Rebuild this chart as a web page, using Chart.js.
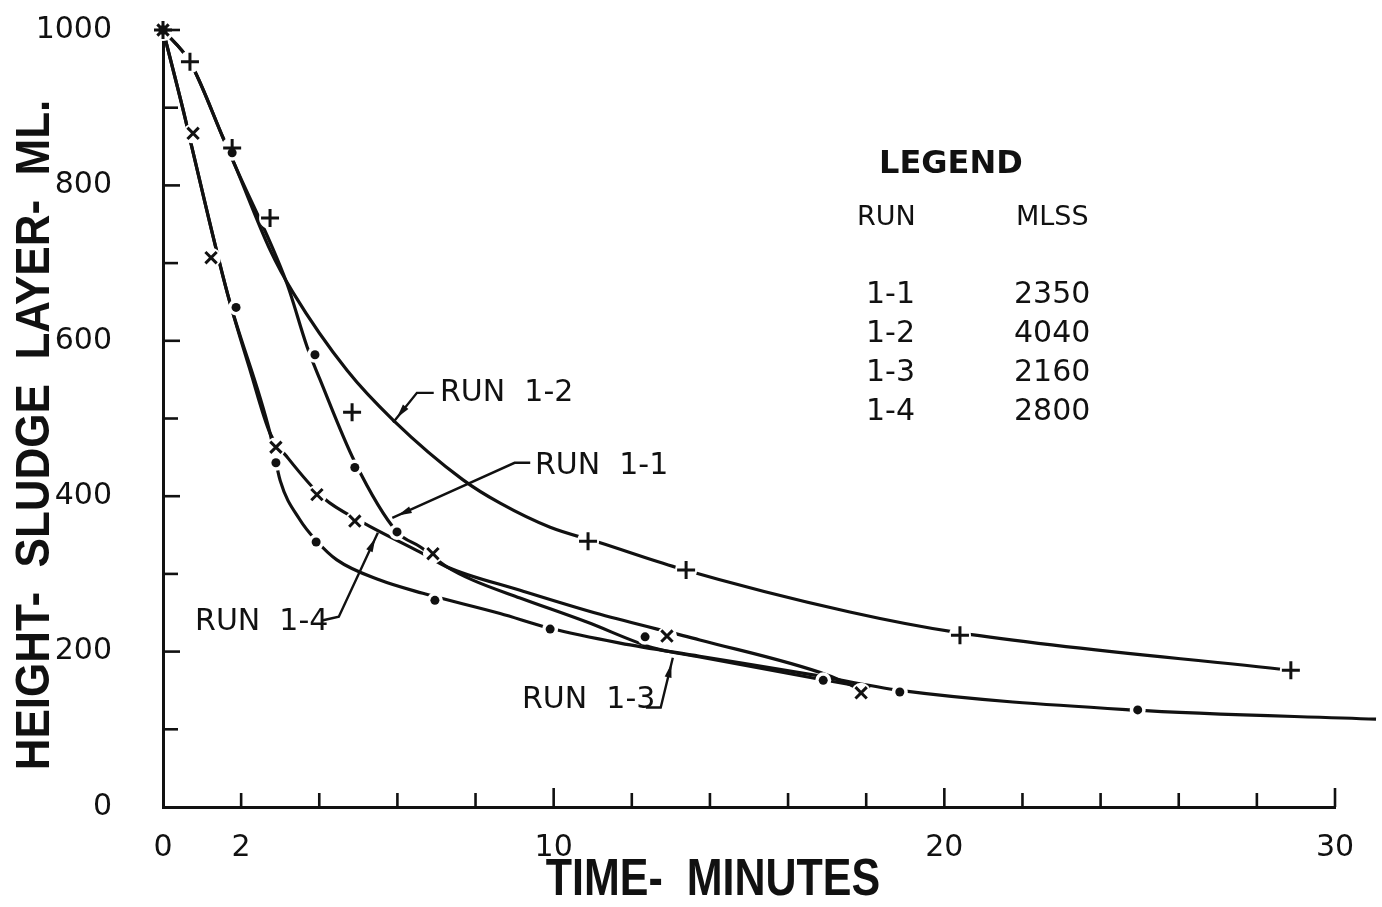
<!DOCTYPE html>
<html>
<head>
<meta charset="utf-8">
<title>Settling curves</title>
<script src="https://cdn.jsdelivr.net/npm/chart.js@4.4.1/dist/chart.umd.min.js"></script>
<style>
  html, body { margin: 0; padding: 0; background: #fff; }
  canvas { display: block; }
</style>
</head>
<body>
<canvas id="chart" width="1382" height="907"></canvas>
<script>
// Observed readings: time (minutes) and sludge layer height (ml)
const obs11Time   = [0, 1.77, 3.89, 4.91, 5.99, 12.34, 16.9];
const obs11Height = [1000, 842, 582, 437, 354, 219, 163];
const obs12Time   = [0, 0.69, 1.77, 2.74, 4.84, 10.88, 13.39, 20.4, 28.87];
const obs12Height = [1000, 959, 848, 758, 508, 342, 305, 221, 176];
const obs13Time   = [0, 1.87, 2.89, 3.92, 6.96, 9.91, 18.86, 24.95];
const obs13Height = [1000, 643, 443, 341, 266, 229, 148, 125];
const obs14Time   = [0, 0.77, 1.23, 2.89, 3.94, 4.91, 6.91, 12.9, 17.87];
const obs14Height = [1000, 867, 707, 463, 402, 368, 326, 220, 147];

// Faired settling curves drawn through the readings
const curve11Time   = [0, 0.69, 1.54, 1.84, 3.17, 3.69, 4.02, 4.91, 5.99, 6.58, 7.27, 7.93, 9.14, 10.85, 12.54, 13.74, 16.64, 18.1];
const curve11Height = [1000, 959, 861, 826, 674, 592, 550, 444, 354, 335, 309, 292, 269, 238, 205, 193, 166, 153];
const curve12Time   = [0, 0.69, 1.54, 1.84, 2.74, 3.33, 4.71, 5.89, 7.68, 8.63, 9.91, 11.19, 13.16, 17.58, 20.4, 28.87];
const curve12Height = [1000, 959, 861, 826, 717, 662, 562, 498, 421, 391, 360, 340, 308, 251, 224, 176];
const curve13Time   = [0, 0.56, 0.74, 1.66, 2.74, 3.0, 3.5, 3.92, 4.45, 5.55, 6.65, 8.63, 9.91, 11.7, 13.74, 16.64, 18.86, 24.78, 31.05];
const curve13Height = [1000, 888, 849, 659, 481, 420, 370, 343, 318, 292, 275, 249, 230, 211, 194, 170, 150, 125, 113];
const curve14Time   = [0, 0.56, 0.74, 1.66, 2.23, 2.74, 3.2, 4.1, 5.12, 6.58, 7.27, 9.14, 11.19, 13.74, 17.0, 17.87];
const curve14Height = [1000, 888, 849, 659, 562, 481, 449, 398, 366, 328, 309, 279, 248, 215, 170, 151];

// Axis tick labels
const xTickLabels = [0, 2, 10, 20, 30];
const yTickLabels = [0, 200, 400, 600, 800, 1000];

// Legend table
const legendRuns = ['1-1', '1-2', '1-3', '1-4'];
const legendMlss = ['2350', '4040', '2160', '2800'];

const ink = '#111';

const zip = (xs, ys) => xs.map((t, i) => ({ x: t, y: ys[i] }));

// Curve call-outs: label text, text anchor (left-middle) and leader path in data units
const callouts = [
  { text: 'RUN  1-2', at: [7.09, 533], leader: [[6.93, 533], [6.5, 533], [5.89, 495]] },
  { text: 'RUN  1-1', at: [9.52, 438], leader: [[9.40, 443], [9.0, 443], [5.87, 372]] },
  { text: 'RUN  1-4', at: [0.82, 238], leader: [[4.07, 240], [4.5, 245], [5.5, 353]] },
  { text: 'RUN  1-3', at: [9.19, 138], leader: [[12.36, 128], [12.74, 128], [13.05, 192]] }
];

function curveSet(label, xs, ys) {
  return {
    label, data: zip(xs, ys), order: 3, clip: false,
    borderColor: ink, borderWidth: 3.2, pointRadius: 0,
    cubicInterpolationMode: 'monotone', fill: false
  };
}
function haloSet(xs, ys, r) {
  return {
    data: zip(xs, ys), order: 2, clip: false, showLine: false,
    pointStyle: 'circle', pointRadius: r, pointBorderWidth: 0,
    pointBackgroundColor: '#fff', pointBorderColor: '#fff'
  };
}
function markSet(label, xs, ys, style, r, bw) {
  return {
    label, data: zip(xs, ys), order: 1, clip: false, showLine: false,
    pointStyle: style, pointRadius: r, pointBorderWidth: bw,
    pointBackgroundColor: ink, pointBorderColor: ink
  };
}

function drawArrow(ctx, pts) {
  ctx.beginPath();
  ctx.moveTo(pts[0][0], pts[0][1]);
  for (let i = 1; i < pts.length; i++) ctx.lineTo(pts[i][0], pts[i][1]);
  ctx.stroke();
  const [x1, y1] = pts[pts.length - 2];
  const [x2, y2] = pts[pts.length - 1];
  const ang = Math.atan2(y2 - y1, x2 - x1);
  const back = 6, len = 14, w = 3.5;
  const tx = x2 - back * Math.cos(ang), ty = y2 - back * Math.sin(ang);
  ctx.beginPath();
  ctx.moveTo(tx, ty);
  ctx.lineTo(tx - len * Math.cos(ang) + w * Math.sin(ang), ty - len * Math.sin(ang) - w * Math.cos(ang));
  ctx.lineTo(tx - len * Math.cos(ang) - w * Math.sin(ang), ty - len * Math.sin(ang) + w * Math.cos(ang));
  ctx.closePath();
  ctx.fill();
}

const inkPlugin = {
  id: 'ink',
  afterDraw(chart) {
    const { ctx, chartArea: a } = chart;
    const x = chart.scales.x, y = chart.scales.y;
    ctx.save();
    ctx.strokeStyle = ink;
    ctx.fillStyle = ink;

    // tick marks pointing into the plot
    ctx.lineWidth = 2.6;
    x.ticks.forEach(tk => {
      if (tk.value === 0) return;
      const px = x.getPixelForValue(tk.value);
      const len = tk.value % 10 === 0 ? 19 : 14;
      ctx.beginPath(); ctx.moveTo(px, a.bottom); ctx.lineTo(px, a.bottom - len); ctx.stroke();
    });
    y.ticks.forEach(tk => {
      if (tk.value === 0) return;
      const py = y.getPixelForValue(tk.value);
      const len = tk.value % 200 === 0 ? 17 : 15;
      ctx.beginPath(); ctx.moveTo(a.left, py); ctx.lineTo(a.left + len, py); ctx.stroke();
    });

    // axis titles
    ctx.textBaseline = 'middle';
    ctx.textAlign = 'center';
    ctx.save();
    ctx.translate(36, 435);
    ctx.rotate(-Math.PI / 2);
    ctx.scale(1, 1.08);
    ctx.font = 'bold 44px "Liberation Sans", Arial, sans-serif';
    ctx.fillText('HEIGHT-  SLUDGE  LAYER-  ML.', 0, 0);
    ctx.restore();

    ctx.save();
    ctx.translate(713, 881);
    ctx.scale(1, 1.2);
    ctx.font = 'bold 43px "Liberation Sans", Arial, sans-serif';
    ctx.fillText('TIME-  MINUTES', 0, 0);
    ctx.restore();

    // call-outs for each run
    ctx.lineWidth = 2.4;
    ctx.font = '30px "DejaVu Sans", sans-serif';
    ctx.textAlign = 'left';
    callouts.forEach(c => {
      const tx = x.getPixelForValue(c.at[0]), ty = y.getPixelForValue(c.at[1]);
      ctx.fillText(c.text, tx, ty);
      drawArrow(ctx, c.leader.map(p => [x.getPixelForValue(p[0]), y.getPixelForValue(p[1])]));
    });

    // legend table
    ctx.font = 'bold 32px "DejaVu Sans", sans-serif';
    ctx.fillText('LEGEND', 879, 165);
    ctx.font = '27px "DejaVu Sans", sans-serif';
    ctx.fillText('RUN', 857, 218);
    ctx.fillText('MLSS', 1016, 218);
    ctx.font = '30px "DejaVu Sans", sans-serif';
    legendRuns.forEach((r, i) => {
      const ry = 295 + i * 39;
      ctx.fillText(r, 866, ry);
      ctx.fillText(legendMlss[i], 1014, ry);
    });
    ctx.restore();
  }
};

new Chart(document.getElementById('chart'), {
  type: 'line',
  data: {
    datasets: [
      curveSet('RUN 1-1', curve11Time, curve11Height),
      curveSet('RUN 1-2', curve12Time, curve12Height),
      curveSet('RUN 1-3', curve13Time, curve13Height),
      curveSet('RUN 1-4', curve14Time, curve14Height),
      haloSet(obs11Time, obs11Height, 8),
      haloSet(obs12Time, obs12Height, 11),
      haloSet(obs13Time, obs13Height, 8),
      haloSet(obs14Time, obs14Height, 10),
      markSet('1-1 readings', obs11Time, obs11Height, 'circle', 4.5, 0),
      markSet('1-2 readings', obs12Time, obs12Height, 'cross', 9, 3),
      markSet('1-3 readings', obs13Time, obs13Height, 'circle', 4.5, 0),
      markSet('1-4 readings', obs14Time, obs14Height, 'crossRot', 8, 3)
    ]
  },
  options: {
    responsive: false,
    devicePixelRatio: 1,
    animation: false,
    events: [],
    layout: { padding: { left: 0, top: 30, right: 47, bottom: 0 } },
    plugins: { legend: { display: false }, tooltip: { enabled: false }, title: { display: false } },
    scales: {
      x: {
        type: 'linear', min: 0, max: 30,
        afterFit: s => { s.height = 100; s.paddingLeft = 0; s.paddingRight = 0; },
        grid: { display: false, drawTicks: false },
        border: { display: true, color: ink, width: 3 },
        ticks: {
          stepSize: 2, autoSkip: false, maxRotation: 0, padding: 23,
          color: ink, font: { family: 'DejaVu Sans', size: 30 },
          callback: v => xTickLabels.includes(v) ? String(v) : ''
        }
      },
      y: {
        type: 'linear', min: 0, max: 1000,
        afterFit: s => { s.width = 163; s.paddingTop = 0; s.paddingBottom = 0; },
        grid: { display: false, drawTicks: false },
        border: { display: true, color: ink, width: 3 },
        ticks: {
          stepSize: 100, autoSkip: false, padding: 51,
          color: ink, font: { family: 'DejaVu Sans', size: 30 },
          callback: v => yTickLabels.includes(v) ? String(v) : ''
        }
      }
    }
  },
  plugins: [inkPlugin]
});
</script>
</body>
</html>
